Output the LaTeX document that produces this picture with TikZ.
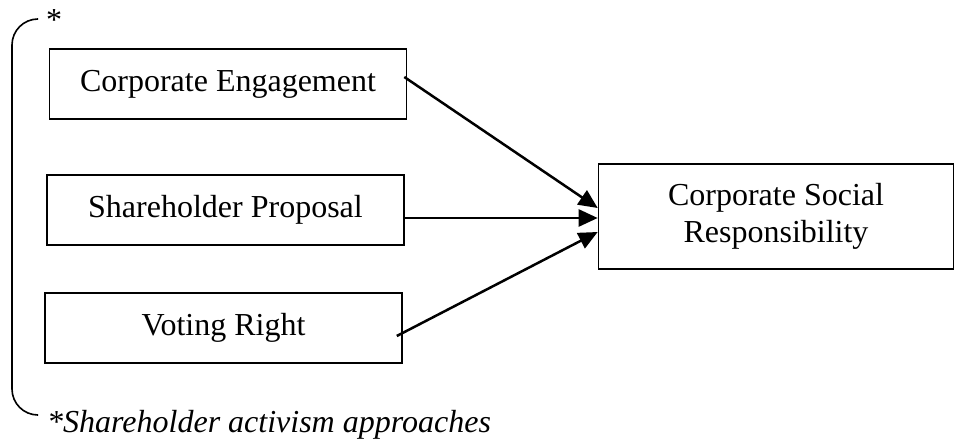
\documentclass[tikz,border=0pt]{standalone}
\usepackage{fontspec}
\setmainfont{Liberation Serif}
\usetikzlibrary{arrows.meta}
\begin{document}
\begin{tikzpicture}
	[x=1pt,y=-1pt,
	box/.style={draw,line width=1.6pt,minimum width=357pt,minimum height=70pt,inner sep=0pt,font=\fontsize{32}{37}\selectfont},
	txt/.style={inner sep=0pt,anchor=base west,font=\fontsize{32}{37}\selectfont},
	>={Triangle[length=19pt,width=17pt]}]
	\useasboundingbox(0,0)rectangle(956,446);
	\node[box,name=ce]at(228,84){Corporate Engagement};
	\node[box,name=sp]at(225.5,210){Shareholder Proposal};
	\node[box,name=vr]at(223.5,328){Voting Right};
	\node[box,name=csr,minimum width=355pt,minimum height=105pt,align=center]at(776,216.5){Corporate Social\\Responsibility};
	\node[txt,name=star]at(46,31){*};
	\node[txt,name=note,font=\fontsize{32}{37}\selectfont\itshape]at(47,432){*Shareholder activism approaches};
	\draw[line width=1.6pt,rounded corners=26pt](37,19)--(12,19)--(12,415)--(37,415);
	\draw[->,line width=2.5pt]([shift={(-3,-7)}]ce.east)--([shift={(0,-8.5)}]csr.west);
	\draw[->,line width=2.5pt]([shift={(0,8)}]sp.east)--([shift={(0,1.5)}]csr.west);
	\draw[->,line width=2.5pt]([shift={(-6,8)}]vr.east)--([shift={(0,15.5)}]csr.west);
\end{tikzpicture}
\end{document}
